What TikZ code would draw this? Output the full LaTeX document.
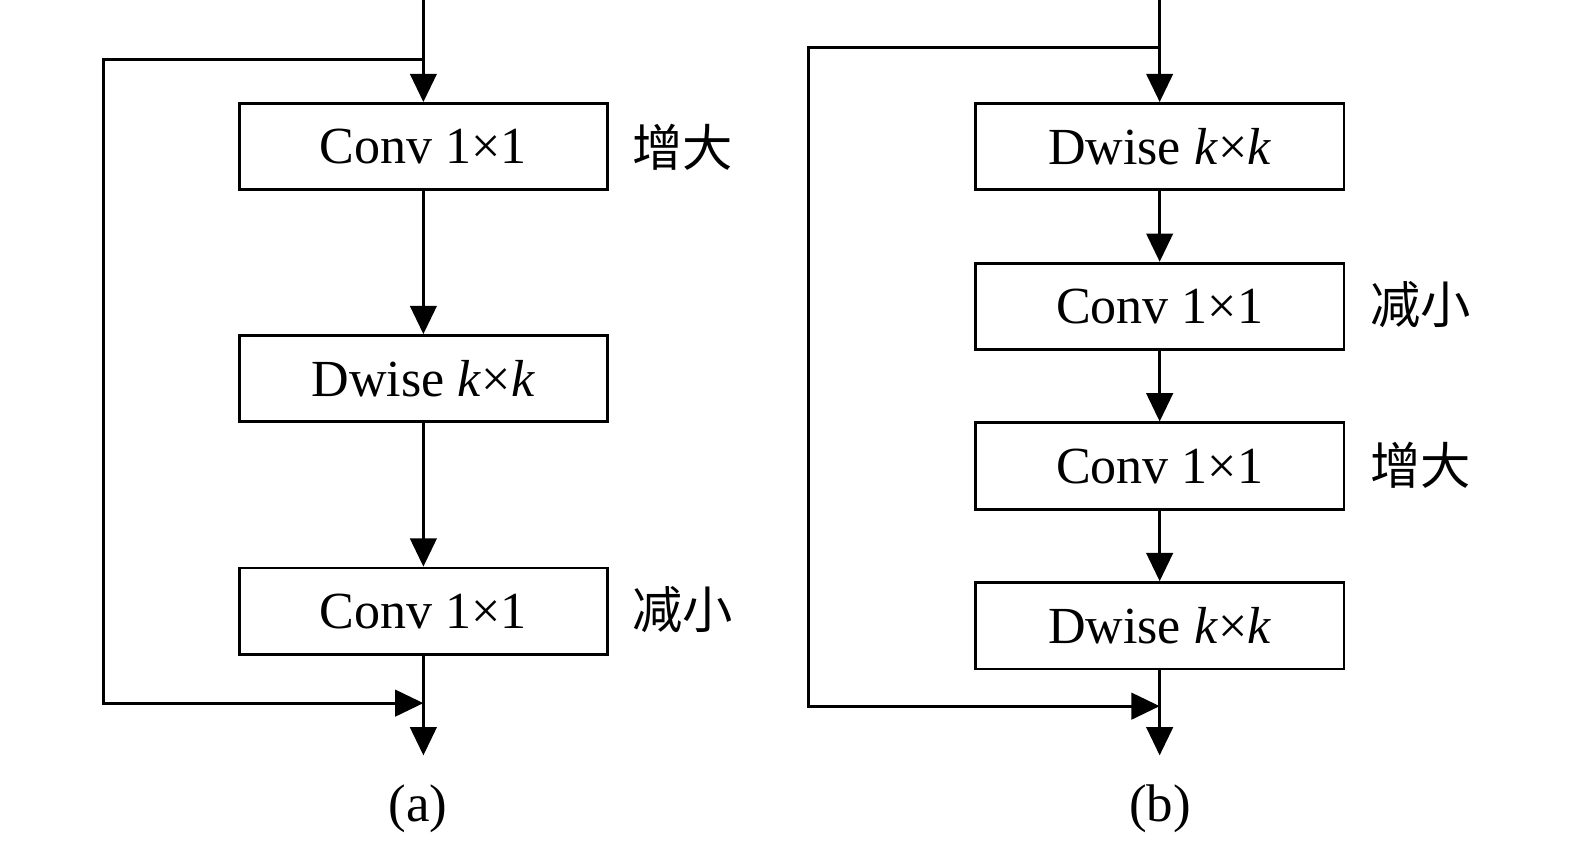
\documentclass[tikz,border=0pt]{standalone}
\usepackage{fontspec}
\setmainfont{Liberation Serif}
\newfontfamily\cjk{Noto Sans CJK SC}
\usetikzlibrary{arrows.meta}
\begin{document}
\begin{tikzpicture}[x=0.02cm,y=-0.02cm, line width=1.6pt,
  box/.style={draw, line width=1.6pt, minimum width=7.34cm, minimum height=1.72cm, inner sep=0pt, font=\fontsize{29.5}{36}\selectfont},
  lab/.style={font=\cjk\fontsize{28.5}{34}\selectfont, anchor=west, inner sep=0pt},
  arr/.style={-{Triangle[length=16pt,width=15pt]}},
  captext/.style={font=\fontsize{30}{36}\selectfont}]
\useasboundingbox (0,0) rectangle (1568,838);
% ---------- panel (a)
\node[box] (a1) at (421.5,146) {Conv 1×1};
\node[box] (a2) at (421.5,377) {Dwise \textit{k}×\textit{k}};
\node[box] (a3) at (421.5,608.5) {Conv 1×1};
\node[lab] (la1) at (628,147) {增大};
\node[lab] (la3) at (628,607) {减小};
\coordinate (ain) at (421.5,0);
\coordinate (aj) at (421.5,59);
\coordinate (aL1) at (103,59);
\coordinate (aL2) at (103,700);
\coordinate (am) at (421.5,700);
\coordinate (aout) at (421.5,752);
\draw[arr] (ain) -- (a1.north);
\draw[arr] (aj) -- (aL1) -- (aL2) -- (am);
\draw[arr] (a1.south) -- (a2.north);
\draw[arr] (a2.south) -- (a3.north);
\draw[arr] (a3.south) -- (aout);
\node[captext] (capa) at (416,805) {(a)};
% ---------- panel (b)
\node[box] (b1) at (1154.5,146) {Dwise \textit{k}×\textit{k}};
\node[box] (b2) at (1154.5,305) {Conv 1×1};
\node[box] (b3) at (1154.5,464) {Conv 1×1};
\node[box] (b4) at (1154.5,623) {Dwise \textit{k}×\textit{k}};
\node[lab] (lb2) at (1363,303) {减小};
\node[lab] (lb3) at (1363,463) {增大};
\coordinate (bin) at (1154.5,0);
\coordinate (bj) at (1154.5,47);
\coordinate (bL1) at (805,47);
\coordinate (bL2) at (805,703);
\coordinate (bm) at (1154.5,703);
\coordinate (bout) at (1154.5,752);
\draw[arr] (bin) -- (b1.north);
\draw[arr] (bj) -- (bL1) -- (bL2) -- (bm);
\draw[arr] (b1.south) -- (b2.north);
\draw[arr] (b2.south) -- (b3.north);
\draw[arr] (b3.south) -- (b4.north);
\draw[arr] (b4.south) -- (bout);
\node[captext] (capb) at (1155,805) {(b)};
\end{tikzpicture}
\end{document}
